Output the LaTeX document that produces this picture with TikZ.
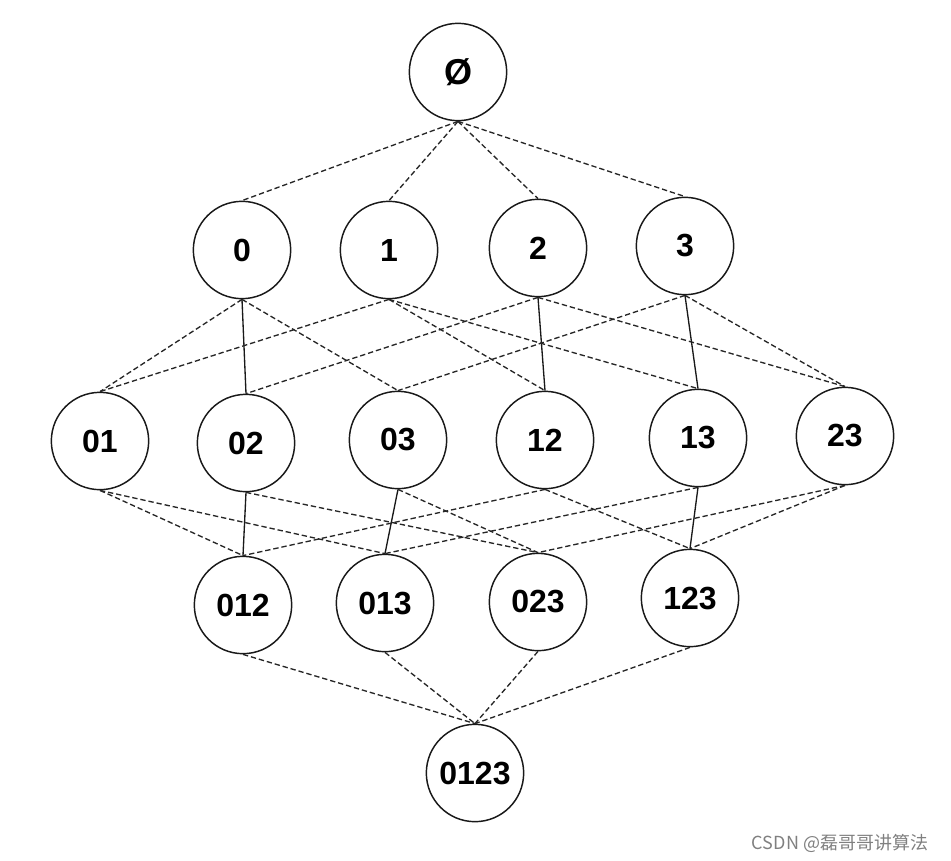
\documentclass[tikz,border=0pt]{standalone}
\usepackage{fontspec}
\setmainfont{Liberation Sans}
\newfontfamily\cjkfont{Noto Sans CJK SC}
\usepackage{tikz}
\tikzstyle{setnode} = [circle, 
minimum size=73pt, 
inner sep=0pt, 
text centered, 
font=\fontsize{24}{28}\selectfont\bfseries,
line width=1.1pt,
draw=black!90]
\tikzstyle{link} = [line width=1pt, draw=black!85, dash pattern=on 4pt off 2.2pt]
\tikzstyle{treelink} = [line width=1pt, draw=black!90]

\begin{document}
\begin{tikzpicture}[x=0.75pt, y=-0.75pt]
            \useasboundingbox (0,0) rectangle (951,861);
            \node (empty) [setnode] at (458,72) {\fontsize{27}{30}\selectfont Ø};
            \node (s0) [setnode] at (242,250) {0};
            \node (s1) [setnode] at (389,250) {1};
            \node (s2) [setnode] at (538,248) {2};
            \node (s3) [setnode] at (685,246) {3};
            \node (s01) [setnode] at (100,441) {01};
            \node (s02) [setnode] at (246,443) {02};
            \node (s03) [setnode] at (398,440) {03};
            \node (s12) [setnode] at (545,440) {12};
            \node (s13) [setnode] at (698,438) {13};
            \node (s23) [setnode] at (845,436) {23};
            \node (s012) [setnode] at (243,605) {012};
            \node (s013) [setnode] at (385,603) {013};
            \node (s023) [setnode] at (538,602) {023};
            \node (s123) [setnode] at (690,598) {123};
            \node (s0123) [setnode] at (475,773) {0123};
            \node (mark) [text=black!50, font=\cjkfont\fontsize{13.5}{16}\selectfont] at (840,843) {CSDN @磊哥哥讲算法};

            \draw [link] (empty.south) -- (s0.north);
            \draw [link] (empty.south) -- (s1.north);
            \draw [link] (empty.south) -- (s2.north);
            \draw [link] (empty.south) -- (s3.north);

            \draw [link] (s0.south) -- (s01.north);
            \draw [treelink] (s0.south) -- (s02.north);
            \draw [link] (s0.south) -- (s03.north);
            \draw [link] (s1.south) -- (s01.north);
            \draw [link] (s1.south) -- (s12.north);
            \draw [link] (s1.south) -- (s13.north);
            \draw [link] (s2.south) -- (s02.north);
            \draw [treelink] (s2.south) -- (s12.north);
            \draw [link] (s2.south) -- (s23.north);
            \draw [link] (s3.south) -- (s03.north);
            \draw [treelink] (s3.south) -- (s13.north);
            \draw [link] (s3.south) -- (s23.north);

            \draw [link] (s01.south) -- (s012.north);
            \draw [link] (s01.south) -- (s013.north);
            \draw [treelink] (s02.south) -- (s012.north);
            \draw [link] (s02.south) -- (s023.north);
            \draw [treelink] (s03.south) -- (s013.north);
            \draw [link] (s03.south) -- (s023.north);
            \draw [link] (s12.south) -- (s012.north);
            \draw [link] (s12.south) -- (s123.north);
            \draw [link] (s13.south) -- (s013.north);
            \draw [treelink] (s13.south) -- (s123.north);
            \draw [link] (s23.south) -- (s023.north);
            \draw [link] (s23.south) -- (s123.north);

            \draw [link] (s012.south) -- (s0123.north);
            \draw [link] (s013.south) -- (s0123.north);
            \draw [link] (s023.south) -- (s0123.north);
            \draw [link] (s123.south) -- (s0123.north);
        \end{tikzpicture}
\end{document}
